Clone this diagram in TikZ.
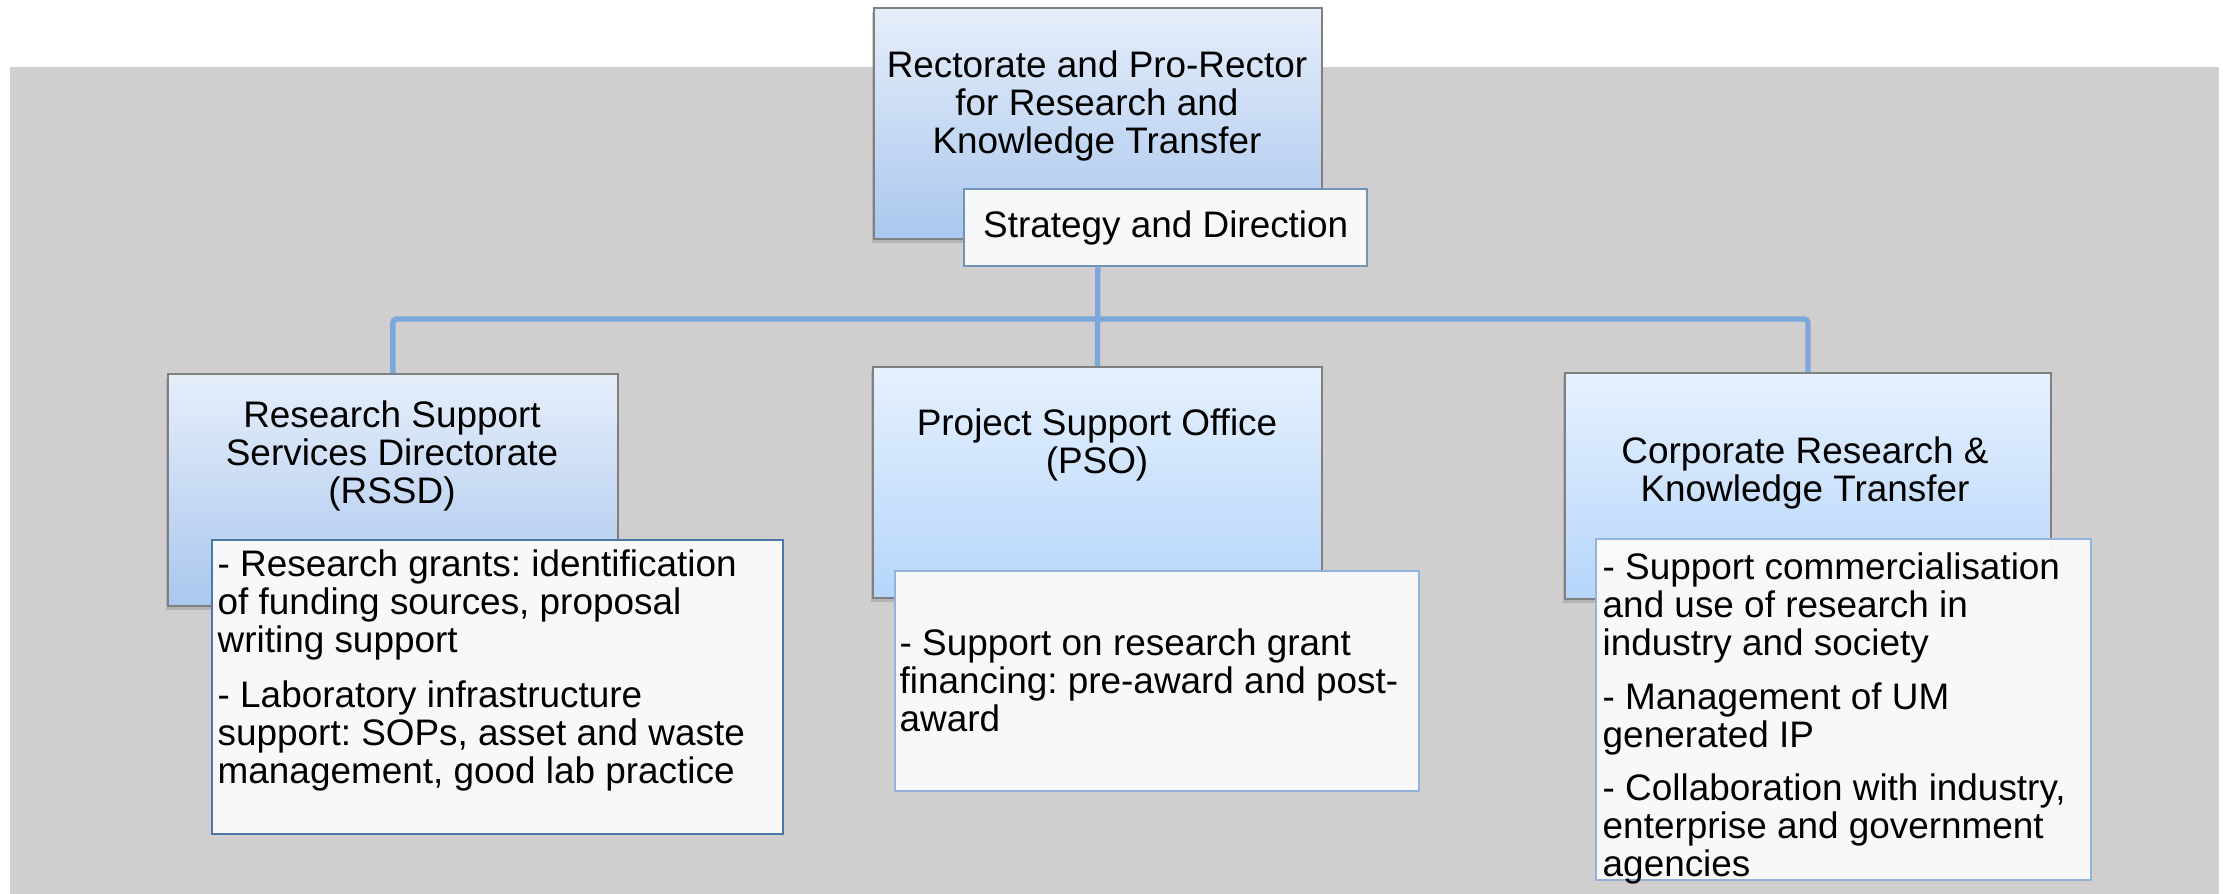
\documentclass[tikz,border=0pt]{standalone}
\usepackage{fontspec}
\setmainfont{Liberation Sans}
\usetikzlibrary{positioning, shadows}
\frenchspacing

\definecolor{panel}{HTML}{D0CECF}
\definecolor{wire}{HTML}{7BA7DA}
\definecolor{deepA}{HTML}{E6EEFA}
\definecolor{deepB}{HTML}{AAC7EE}
\definecolor{paleA}{HTML}{E6F1FE}
\definecolor{paleB}{HTML}{B5D5FA}
\definecolor{rimdark}{HTML}{4C78A8}
\definecolor{rimlight}{HTML}{93B3DA}
\definecolor{paper}{HTML}{FAFAFA}

\begin{document}
\begin{tikzpicture}[x=0.1mm, y=-0.1mm,
    font=\fontsize{10.5pt}{10.8pt}\selectfont,
    unit/.style={draw=gray, line width=0.5pt, anchor=north west, inner sep=0pt,
        drop shadow={shadow xshift=-0.4pt, shadow yshift=-1.2pt, opacity=0.35}},
    note/.style={draw=rimlight, line width=0.7pt, fill=paper, fill opacity=0.97,
        text opacity=1, anchor=north west, inner sep=0pt},
    title/.style={align=center, inner sep=0pt},
    item/.style={align=left, anchor=north west, inner sep=0pt},
    link/.style={draw=wire, line width=1.5pt}]

    \useasboundingbox (0,0) rectangle (2223,894);
    \fill[panel] (10,67) rectangle (2219,894);

    % top of the chart
    \node[unit, top color=deepA, bottom color=deepB, minimum width=44.8mm, minimum height=23.1mm] (rector) at (873,7) {};
    \node[title] at (1097,106) {Rectorate and Pro-Rector\\for Research and\\Knowledge Transfer};
    \node[note, draw=rimdark!80, minimum width=40.3mm, minimum height=7.7mm] (strategy) at (963,188) {Strategy and Direction};

    % three units
    \node[unit, top color=deepA, bottom color=deepB, minimum width=45mm, minimum height=23.2mm] (rssd) at (167,373) {};
    \node[title] at (392,456) {Research Support\\Services Directorate\\(RSSD)};
    \node[unit, top color=paleA, bottom color=paleB, minimum width=44.9mm, minimum height=23.1mm] (pso) at (872,366) {};
    \node[title] at (1097,445) {Project Support Office\\(PSO)};
    \node[unit, top color=paleA, bottom color=paleB, minimum width=48.6mm, minimum height=22.6mm] (crkt) at (1564,372) {};
    \node[title] at (1805,473) {Corporate Research \&\\Knowledge Transfer};

    % task lists
    \node[note, draw=rimdark, minimum width=57.1mm, minimum height=29.4mm] (rssdnote) at (211,539) {};
    \node[item] at (217,549) {- Research grants: identification\\of funding sources, proposal\\writing support\\[5pt]- Laboratory infrastructure\\support: SOPs, asset and waste\\management, good lab practice};
    \node[note, minimum width=52.4mm, minimum height=22mm] (psonote) at (894,570) {};
    \node[item] at (899,628) {- Support on research grant\\financing: pre-award and post-\\award};
    \node[note, minimum width=49.5mm, minimum height=34.1mm] (crktnote) at (1595,538) {};
    \node[item] at (1602,552) {- Support commercialisation\\and use of research in\\industry and society\\[4.5pt]- Management of UM\\generated IP\\[4.5pt]- Collaboration with industry,\\enterprise and government\\agencies};

    % connectors
    \coordinate (bar) at (1097,319);
    \draw[link] (rector.south |- strategy.south) -- (pso.north);
    \draw[link, rounded corners=1pt] (rssd.north) |- (bar) -| (crkt.north);
\end{tikzpicture}
\end{document}
